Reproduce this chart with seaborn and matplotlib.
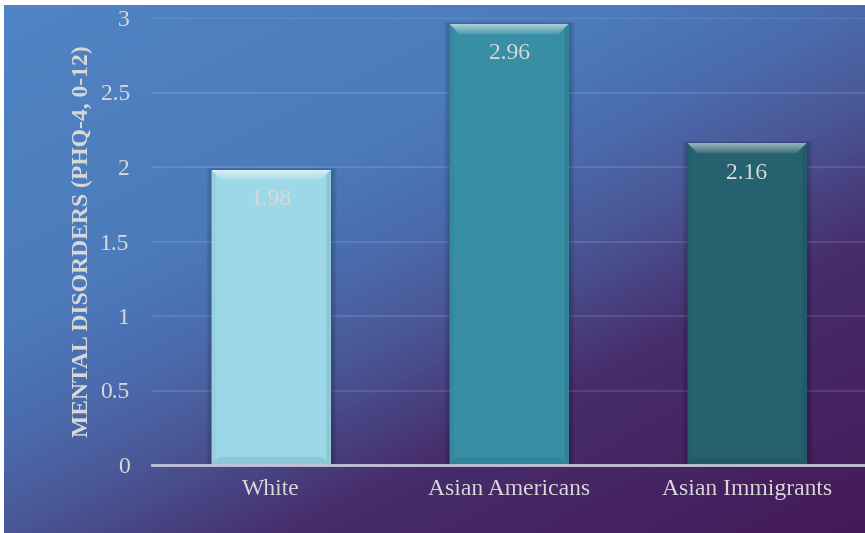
import numpy as np
import matplotlib
matplotlib.use('Agg')
import matplotlib.pyplot as plt
import seaborn as sns
from matplotlib.colors import LinearSegmentedColormap, to_rgb
from matplotlib.patches import Polygon, Rectangle

groups = ['White', 'Asian Americans', 'Asian Immigrants']
scores = [1.98, 2.96, 2.16]
bar_colors = ['#9dd8e8', '#378ea5', '#266170']
yticks = [0, 0.5, 1, 1.5, 2, 2.5, 3]

sns.set_theme(style='white')
plt.rcParams['font.family'] = ['Liberation Serif', 'DejaVu Serif']
text_color = '#d9d9d9'

W, H = 865, 533
fig = plt.figure(figsize=(W / 100, H / 100), dpi=100, facecolor='white')

# diagonal blue -> purple background
bg = fig.add_axes([4 / W, 0, 861 / W, 528 / H], zorder=0)
bg.axis('off')
xx, yy = np.meshgrid(np.linspace(0, 1, 861), np.linspace(0, 1, 528))
s = (0.9 * xx + 1.1 * yy) / 2
bg_cmap = LinearSegmentedColormap.from_list('bg', [
    (0.0, '#5084c4'), (0.33, '#4c7bbb'), (0.45, '#4a6bae'),
    (0.55, '#4a5796'), (0.70, '#472d6c'), (1.0, '#451a58')])
bg.imshow(s, cmap=bg_cmap, vmin=0, vmax=1, aspect='auto', origin='upper',
          extent=[0, 1, 0, 1])
bg.set_xlim(0, 1)
bg.set_ylim(0, 1)

ax_left, ax_bottom = 152 / W, 1 - 465 / H
ax_w, ax_h = 714 / W, 447 / H
ax = fig.add_axes([ax_left, ax_bottom, ax_w, ax_h], zorder=1)
ax.patch.set_alpha(0)

sns.barplot(x=groups, y=scores, hue=groups, palette=bar_colors, width=0.5,
            saturation=1, legend=False, linewidth=0, zorder=3, ax=ax)

ax.set_xlim(-0.5, 2.5)
ax.set_ylim(0, 3)
ax.set_yticks(yticks)
ax.set_yticklabels([f'{t:g}' for t in yticks])
ax.yaxis.grid(True, color='white', alpha=0.13, lw=1.2)
ax.xaxis.grid(False)
ax.set_axisbelow(True)
for side in ['left', 'right', 'top']:
    ax.spines[side].set_visible(False)
ax.spines['bottom'].set_color('#c4c4d6')
ax.spines['bottom'].set_linewidth(2)
ax.spines['bottom'].set_zorder(6)

ax.tick_params(axis='y', length=0, pad=16, labelsize=17, labelcolor=text_color)
ax.tick_params(axis='x', length=0, pad=10, labelsize=17, labelcolor=text_color)
ax.set_xlabel('')
ax.set_ylabel('MENTAL DISORDERS (PHQ-4, 0-12)', fontsize=17,
              fontweight='bold', color=text_color)
ax.yaxis.set_label_coords((93 - 152) / 714, 0.5)

# pixel -> data units
ux = 3 / 714
uy = 3 / 447


def mix(c, other, t):
    c, o = np.array(to_rgb(c)), np.array(to_rgb(other))
    return tuple(c * (1 - t) + o * t)


bars = [p for p in ax.patches if p.get_height() > 0]
for p, base in zip(bars, bar_colors):
    x0, bw, top = p.get_x(), p.get_width(), p.get_height()
    # soft shadow
    for k in range(1, 7):
        ax.add_patch(Rectangle((x0 - k * ux, 0), bw + 2 * k * ux, top + k * uy * 0.4,
                               color='black', alpha=0.035, lw=0, zorder=2.5))
    # side bevels
    d = 4
    ax.add_patch(Polygon([(x0, top), (x0 + d * ux, top - d * uy),
                          (x0 + d * ux, d * uy), (x0, 0)],
                         color=mix(base, 'black', 0.04), lw=0, zorder=3.2))
    ax.add_patch(Polygon([(x0 + bw, top), (x0 + bw - d * ux, top - d * uy),
                          (x0 + bw - d * ux, d * uy), (x0 + bw, 0)],
                         color=mix(base, 'black', 0.09), lw=0, zorder=3.2))
    # bottom bevel
    b = 8
    ax.add_patch(Polygon([(x0, 0), (x0 + bw, 0), (x0 + bw - b * ux, b * uy),
                          (x0 + b * ux, b * uy)],
                         color=mix(base, 'black', 0.08), lw=0, zorder=3.3))
    # top bevel, light gradient
    n = 10
    for i in range(n):
        t = 0.6 - 0.45 * i / (n - 1)
        ax.add_patch(Polygon([(x0 + i * ux, top - i * uy),
                              (x0 + bw - i * ux, top - i * uy),
                              (x0 + bw - (i + 1) * ux, top - (i + 1) * uy),
                              (x0 + (i + 1) * ux, top - (i + 1) * uy)],
                             color=mix(base, 'white', t), lw=0, zorder=3.4))

for i, v in enumerate(scores):
    ax.text(i, v - 30 * uy, f'{v:.2f}', ha='center', va='center', fontsize=17,
            color=text_color, zorder=5)

fig.savefig('out.png', dpi=100, facecolor=fig.get_facecolor())
